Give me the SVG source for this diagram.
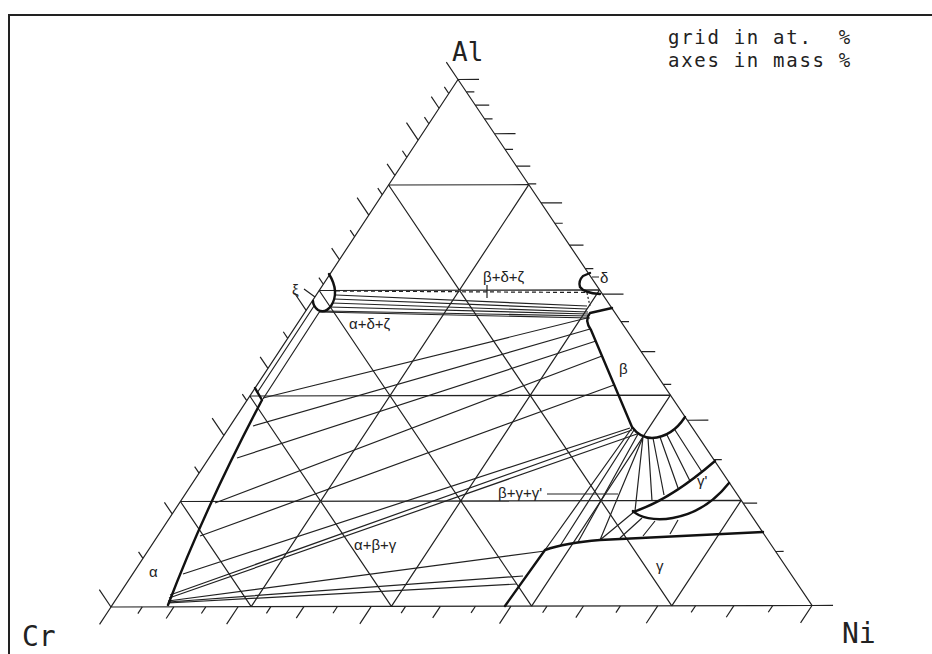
<svg xmlns="http://www.w3.org/2000/svg" width="932" height="654" viewBox="0 0 932 654">
<style>
.g path{fill:none;stroke:#222;stroke-width:1.2;vector-effect:non-scaling-stroke}
.t{fill:none;stroke:#222;stroke-width:1.2}
.k{fill:none;stroke:#111;stroke-width:2.4;stroke-linejoin:round;stroke-linecap:round}
.lbl{font-family:"Liberation Sans",Arial,sans-serif;font-size:15px;fill:#222}
.mono{font-family:"DejaVu Sans Mono",monospace;fill:#222}
</style>
<rect width="932" height="654" fill="#fff"/>
<path d="M9,654 L9,15 L932,15" fill="none" stroke="#222" stroke-width="2"/>
<text class="mono" x="668" y="44" font-size="19" letter-spacing="1.7">grid in at.&#160;&#160;%</text>
<text class="mono" x="668" y="67" font-size="19" letter-spacing="1.7">axes in mass %</text>
<text class="mono" x="452" y="61" font-size="26">Al</text>
<text class="mono" x="22" y="646" font-size="28">Cr</text>
<text class="mono" x="842" y="643" font-size="28">Ni</text>
<g id="frame" class="g" transform="matrix(7.01 -0.015 3.47 -5.275 111 607)">
<path d="M0,0 L100,0 L0,100 Z"/>
<path d="M0,20 L80,20 M0,40 L60,40 M0,60 L40,60 M0,80 L20,80 M20,0 L20,80 M40,0 L40,60 M60,0 L60,40 M80,0 L80,20 M20,0 L0,20 M40,0 L0,40 M60,0 L0,60 M80,0 L0,80"/>
<path d="M0,100 L3,100 M2.36,97.64 L3.5,97.64 M4.86,95.14 L6.86,95.14 M7.5,92.5 L8.64,92.5 M10.31,89.69 L13.31,89.69 M13.29,86.71 L14.43,86.71 M16.46,83.54 L18.46,83.54 M19.84,80.16 L20.98,80.16 M23.46,76.54 L26.46,76.54 M27.33,72.67 L28.47,72.67 M31.49,68.51 L33.49,68.51 M35.97,64.03 L37.11,64.03 M40.81,59.19 L43.81,59.19 M46.05,53.95 L47.19,53.95 M51.75,48.25 L53.75,48.25 M57.97,42.03 L59.11,42.03 M64.78,35.22 L67.78,35.22 M72.26,27.74 L73.4,27.74 M80.54,19.46 L82.54,19.46 M89.73,10.27 L90.87,10.27 M100,0 L103,0"/>
<path d="M0,100 L-3.3,103.3 M0,97.34 L-1.25,98.59 M0,94.55 L-2.2,96.75 M0,91.61 L-1.25,92.86 M0,88.52 L-3.3,91.82 M0,85.25 L-1.25,86.5 M0,81.81 L-2.2,84.01 M0,78.16 L-1.25,79.41 M0,74.3 L-3.3,77.6 M0,70.2 L-1.25,71.45 M0,65.84 L-2.2,68.04 M0,61.19 L-1.25,62.44 M0,56.24 L-3.3,59.54 M0,50.93 L-1.25,52.18 M0,45.23 L-2.2,47.43 M0,39.12 L-1.25,40.37 M0,32.52 L-3.3,35.82 M0,25.38 L-1.25,26.63 M0,17.64 L-2.2,19.84 M0,9.21 L-1.25,10.46 M0,0 L-3.3,3.3"/>
<path d="M0,0 L0,-3.3 M4.46,0 L4.46,-1.27 M8.96,0 L8.96,-2.2 M13.52,0 L13.52,-1.27 M18.13,0 L18.13,-3.3 M22.8,0 L22.8,-1.27 M27.52,0 L27.52,-2.2 M32.3,0 L32.3,-1.27 M37.13,0 L37.13,-3.3 M42.02,0 L42.02,-1.27 M46.98,0 L46.98,-2.2 M51.99,0 L51.99,-1.27 M57.06,0 L57.06,-3.3 M62.2,0 L62.2,-1.27 M67.4,0 L67.4,-2.2 M72.66,0 L72.66,-1.27 M77.99,0 L77.99,-3.3 M83.39,0 L83.39,-1.27 M88.86,0 L88.86,-2.2 M94.39,0 L94.39,-1.27 M100,0 L100,-3.3"/>
</g>
<g id="tielines">
<path class="t" d="M336,295 L587,306 M334,299 L587,309 M332,303 L588,312 M329,307 L588,314 M325,311 L589,316 M319,312 L590,318"/>
<path class="t" d="M336,291 L586,292.5" stroke-dasharray="4 3"/>
<path class="t" d="M587,293 L590,306" stroke-dasharray="2 2"/>
<path class="t" d="M257,393 L314,306 M263,399 L320,311"/>
<path class="t" d="M263,398 L587,318 M253,426 L590,329 M237,458 L596,341 M215,503 L602,356 M200,536 L614,385 M183,574 L630,428 M170,595 L632,430 M169,598 L637,434 M168,601 L545,551 M168,602 L523,576 M168,603 L517,584"/>
<path class="t" d="M632,428 L545,550 M634,430 L560,546 M638,434 L578,542 M643,437 L600,540 M643,437 L635,511 M600,540 L635,511 M620,538 L642,518 M643,536 L655,521 M670,534 L678,520"/>
<path class="t" d="M648,438 L652,501 M653,438 L664,495 M660,437 L678,488 M667,435 L690,481 M675,430 L702,472"/>
<path class="t" d="M304,289 L315,297 M592,277 L599,277 M487,285 L487,298 M547,494 L618,494"/>
</g>
<g id="alpha"><path class="k" d="M255,388 L262,400 Q205,508 168,605"/><text class="lbl" x="149" y="577">α</text></g>
<g id="xi"><path class="k" d="M329,274 Q340,292 331,306 Q325,314 318,310 Q313,306 313,301"/><text class="lbl" x="292" y="295" font-size="16">ξ</text></g>
<g id="delta"><path class="k" d="M590,273 L583,276 Q578,281 580,287 Q584,293 600,294"/><text class="lbl" x="600" y="283">δ</text></g>
<g id="beta"><path class="k" d="M612,308 L590,313 Q584,320 591,330 L632,427 Q640,438 652,438 Q672,437 685,417"/><text class="lbl" x="619" y="374">β</text></g>
<g id="gammap"><path class="k" d="M633,512 Q670,500 715,461 M633,511 C645,524 695,526 729,483"/><text class="lbl" x="697" y="486">γ'</text></g>
<g id="gamma"><path class="k" d="M505,606 L545,550 Q565,543 600,540 L763,532"/><text class="lbl" x="656" y="571">γ</text></g>
<g id="labels">
<text class="lbl" x="483" y="282">β+δ+ζ</text>
<text class="lbl" x="349" y="329">α+δ+ζ</text>
<text class="lbl" x="498" y="498">β+γ+γ'</text>
<text class="lbl" x="354" y="550">α+β+γ</text>
</g>
</svg>
